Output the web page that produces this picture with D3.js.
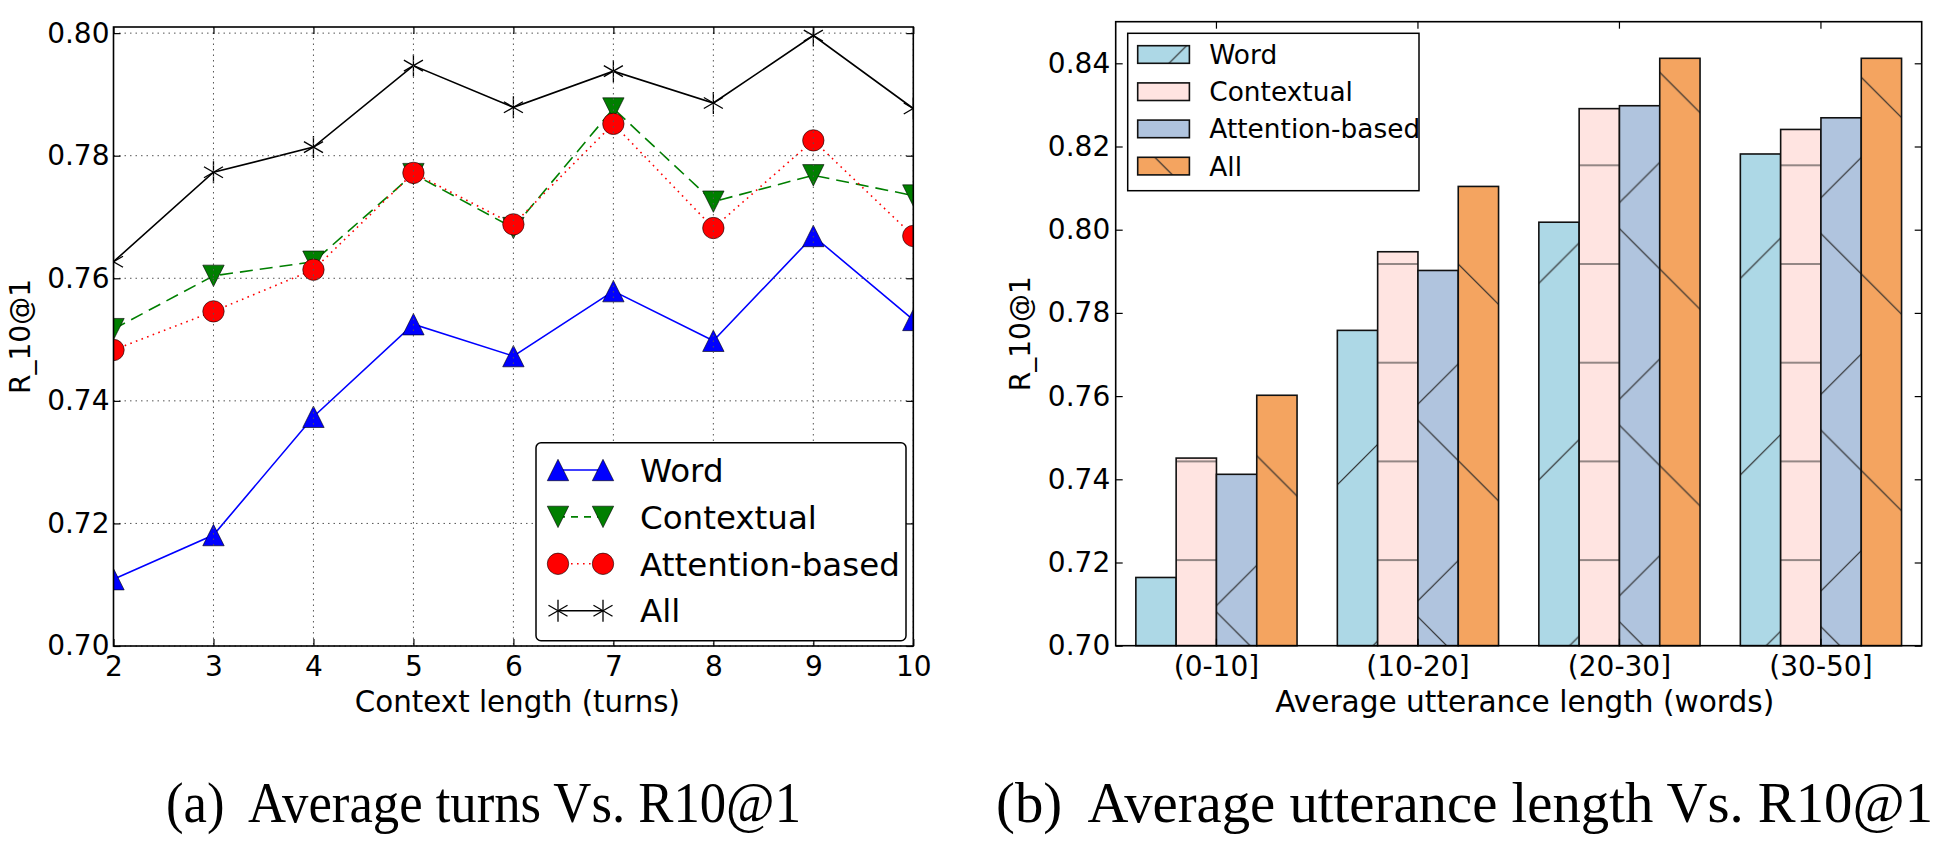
<!DOCTYPE html>
<html><head><meta charset="utf-8">
<script src="https://cdn.jsdelivr.net/npm/d3@7"></script>
<style>
body{margin:0;background:#fff;}
svg{display:block;}
text{font-family:"DejaVu Sans",sans-serif;fill:#000;}
</style>
</head><body>
<svg id="c" width="1953" height="851"></svg>
<script>
// ---------- data ----------
const turns = [2, 3, 4, 5, 6, 7, 8, 9, 10];
const wordTurns       = [0.7109, 0.7181, 0.7374, 0.7525, 0.7473, 0.7579, 0.7498, 0.7669, 0.7532];
const contextualTurns = [0.7517, 0.7604, 0.7627, 0.7770, 0.7682, 0.7877, 0.7725, 0.7768, 0.7735];
const attentionTurns  = [0.7483, 0.7546, 0.7614, 0.7772, 0.7688, 0.7852, 0.7682, 0.7825, 0.7669];
const allTurns        = [0.7627, 0.7773, 0.7814, 0.7947, 0.7879, 0.7938, 0.7886, 0.7996, 0.7877];

const utterCats = ["(0-10]", "(10-20]", "(20-30]", "(30-50]"];
const wordUtter       = [0.7164, 0.7758, 0.8018, 0.8182];
const contextualUtter = [0.7451, 0.7947, 0.8291, 0.8241];
const attentionUtter  = [0.7412, 0.7902, 0.8298, 0.8269];
const allUtter        = [0.7602, 0.8104, 0.8412, 0.8412];

const seriesNames = ["Word", "Contextual", "Attention-based", "All"];
const leftYTicks  = [0.70, 0.72, 0.74, 0.76, 0.78, 0.80];
const rightYTicks = [0.70, 0.72, 0.74, 0.76, 0.78, 0.80, 0.82, 0.84];
const leftXLabel  = "Context length (turns)";
const rightXLabel = "Average utterance length (words)";
const yLabel      = "R_10@1";
const captions    = ["(a)  Average turns Vs. R10@1", "(b)  Average utterance length Vs. R10@1"];

// ---------- setup ----------
const svg = d3.select("#c");
const defs = svg.append("defs");
const fmt2 = d3.format(".2f");

// ================= LEFT CHART =================
const L = {x0: 113.5, x1: 913.3, y0: 27, y1: 646};
const xL = d3.scaleLinear().domain([2, 10]).range([L.x0, L.x1]);
const yL = d3.scaleLinear().domain([0.70, 0.801]).range([L.y1, L.y0]);

defs.append("clipPath").attr("id", "clipL").append("rect")
  .attr("x", L.x0).attr("y", L.y0).attr("width", L.x1 - L.x0).attr("height", L.y1 - L.y0);

const gL = svg.append("g");
const dataL = gL.append("g").attr("clip-path", "url(#clipL)");

const lineSeries = [
  {name: "Word", vals: wordTurns, color: "#0000ff", dash: null, legDash: null, marker: "triUp"},
  {name: "Contextual", vals: contextualTurns, color: "#007f00", dash: "13,7", legDash: "7,6", marker: "triDown"},
  {name: "Attention-based", vals: attentionTurns, color: "#ff0000", dash: "1.6,4.4", legDash: "1.6,4.4", marker: "circle"},
  {name: "All", vals: allTurns, color: "#000000", dash: null, legDash: null, marker: "star"}
];

function drawMarker(g, type, x, y, color) {
  const s = 10.7;
  if (type === "triUp") {
    g.append("path").attr("d", `M${x},${y - s}L${x + s},${y + s}L${x - s},${y + s}Z`)
      .attr("fill", color).attr("stroke", "#000").attr("stroke-width", 0.6);
  } else if (type === "triDown") {
    g.append("path").attr("d", `M${x},${y + s}L${x + s},${y - s}L${x - s},${y - s}Z`)
      .attr("fill", color).attr("stroke", "#000").attr("stroke-width", 0.6);
  } else if (type === "circle") {
    g.append("circle").attr("cx", x).attr("cy", y).attr("r", s)
      .attr("fill", color).attr("stroke", "#000").attr("stroke-width", 0.6);
  } else {
    const r = 11;
    [90, 30, -30].forEach(a => {
      const dx = r * Math.cos(a * Math.PI / 180), dy = r * Math.sin(a * Math.PI / 180);
      g.append("line").attr("x1", x - dx).attr("y1", y - dy).attr("x2", x + dx).attr("y2", y + dy)
        .attr("stroke", color).attr("stroke-width", 1.3);
    });
  }
}

const lineGen = d3.line().x((d, i) => xL(turns[i])).y(d => yL(d));
lineSeries.forEach(s => {
  const p = dataL.append("path").datum(s.vals).attr("d", lineGen)
    .attr("fill", "none").attr("stroke", s.color).attr("stroke-width", 1.6);
  if (s.dash) p.attr("stroke-dasharray", s.dash);
});
lineSeries.forEach(s => {
  s.vals.forEach((v, i) => drawMarker(dataL, s.marker, xL(turns[i]), yL(v), s.color));
});

// grid (drawn above data as in the original)
const gridL = gL.append("g").attr("stroke", "#555").attr("stroke-width", 1).attr("stroke-dasharray", "1.5,4");
turns.forEach(t => gridL.append("line").attr("x1", xL(t)).attr("x2", xL(t)).attr("y1", L.y0).attr("y2", L.y1));
leftYTicks.forEach(t => gridL.append("line").attr("x1", L.x0).attr("x2", L.x1).attr("y1", yL(t)).attr("y2", yL(t)));

// axes
function styleAxis(g, size) {
  g.select(".domain").remove();
  g.selectAll(".tick line").attr("stroke", "#000").attr("stroke-width", 1.2);
  g.selectAll(".tick text").style("font-size", size + "px").attr("fill", "#000");
  g.attr("font-family", null).attr("font-size", null);
}
const axBL = gL.append("g").attr("transform", `translate(0,${L.y1})`)
  .call(d3.axisBottom(xL).tickValues(turns).tickFormat(d3.format("d")).tickSizeInner(-7).tickSizeOuter(0).tickPadding(10));
styleAxis(axBL, 28);
const axLL = gL.append("g").attr("transform", `translate(${L.x0},0)`)
  .call(d3.axisLeft(yL).tickValues(leftYTicks).tickFormat(fmt2).tickSizeInner(-7).tickSizeOuter(0).tickPadding(4));
styleAxis(axLL, 28);
const axTL = gL.append("g").attr("transform", `translate(0,${L.y0})`)
  .call(d3.axisTop(xL).tickValues(turns).tickFormat("").tickSizeInner(-7).tickSizeOuter(0));
styleAxis(axTL, 28);
const axRL = gL.append("g").attr("transform", `translate(${L.x1},0)`)
  .call(d3.axisRight(yL).tickValues(leftYTicks).tickFormat("").tickSizeInner(-7).tickSizeOuter(0));
styleAxis(axRL, 28);

gL.append("rect").attr("x", L.x0).attr("y", L.y0).attr("width", L.x1 - L.x0).attr("height", L.y1 - L.y0)
  .attr("fill", "none").attr("stroke", "#000").attr("stroke-width", 1.6);

gL.append("text").attr("x", (L.x0 + L.x1) / 2 + 4).attr("y", 712).attr("text-anchor", "middle")
  .style("font-size", "29.3px").text(leftXLabel);
gL.append("text").attr("transform", `translate(29.5,${(L.y0 + L.y1) / 2}) rotate(-90)`)
  .attr("text-anchor", "middle").style("font-size", "28px").text(yLabel);

// legend (left)
const legL = gL.append("g");
legL.append("rect").attr("x", 536).attr("y", 442.7).attr("width", 370).attr("height", 198)
  .attr("rx", 5).attr("fill", "#fff").attr("stroke", "#000").attr("stroke-width", 1.5);
lineSeries.forEach((s, i) => {
  const cy = 470 + i * 46.9;
  const ln = legL.append("line").attr("x1", 558).attr("x2", 603).attr("y1", cy).attr("y2", cy)
    .attr("stroke", s.color).attr("stroke-width", 1.6);
  if (s.legDash) ln.attr("stroke-dasharray", s.legDash).attr("stroke-dashoffset", -13);
  drawMarker(legL, s.marker, 558, cy, s.color);
  drawMarker(legL, s.marker, 603, cy, s.color);
  legL.append("text").attr("x", 640).attr("y", cy).attr("dy", "0.36em")
    .style("font-size", "32.5px").text(s.name);
});

// ================= RIGHT CHART =================
const R = {x0: 1115.7, x1: 1921.7, y0: 21.7, y1: 645.7};
const xR = d3.scaleBand().domain(utterCats).range([R.x0, R.x1]).paddingInner(0.2).paddingOuter(0.1);
const xSub = d3.scaleBand().domain(seriesNames).range([0, xR.bandwidth()]);
const yR = d3.scaleLinear().domain([0.70, 0.85]).range([R.y1, R.y0]);

// hatch patterns (anchored to the page, like matplotlib hatches)
const HP = 196.6, HH = 98.7;
function addPattern(id, type) {
  let w = HP, h = HP, ox = 0, oy = 0;
  if (type === "h") { w = HH; h = HH; oy = 66.6; }
  if (type === "f") { ox = 52.7; }
  if (type === "b") { oy = 182; }
  const p = defs.append("pattern").attr("id", id).attr("patternUnits", "userSpaceOnUse")
    .attr("x", ox).attr("y", oy).attr("width", w).attr("height", h);
  const g = p.append("g").attr("stroke", "#2a2a2a").attr("stroke-width", 1.2);
  if (type === "h") {
    [0, HH].forEach(y => g.append("line").attr("x1", -1).attr("x2", w + 1).attr("y1", y).attr("y2", y));
  } else if (type === "f") {
    [0, HP, 2 * HP].forEach(c => g.append("line").attr("x1", c - 2 * HP).attr("y1", 2 * HP).attr("x2", c + HP).attr("y2", -HP));
  } else if (type === "b") {
    [-HP, 0, HP].forEach(c => g.append("line").attr("x1", -HP).attr("y1", c - HP).attr("x2", 2 * HP).attr("y2", c + 2 * HP));
  }
}
addPattern("hatchF", "f");
addPattern("hatchB", "b");
addPattern("hatchH", "h");

const barSeries = [
  {name: "Word", vals: wordUtter, color: "#add8e6", hatch: ["hatchF"]},
  {name: "Contextual", vals: contextualUtter, color: "#ffe4e1", hatch: ["hatchH"]},
  {name: "Attention-based", vals: attentionUtter, color: "#b0c4de", hatch: ["hatchF", "hatchB"]},
  {name: "All", vals: allUtter, color: "#f4a460", hatch: ["hatchB"]}
];

const gR = svg.append("g");
function drawHatchedRect(g, x, y, w, h, s) {
  g.append("rect").attr("x", x).attr("y", y).attr("width", w).attr("height", h).attr("fill", s.color);
  s.hatch.forEach(hid => g.append("rect").attr("x", x).attr("y", y).attr("width", w).attr("height", h)
    .attr("fill", `url(#${hid})`));
  g.append("rect").attr("x", x).attr("y", y).attr("width", w).attr("height", h)
    .attr("fill", "none").attr("stroke", "#111").attr("stroke-width", 1.6);
}
barSeries.forEach(s => {
  s.vals.forEach((v, i) => {
    const c = utterCats[i];
    const x = xR(c) + xSub(s.name);
    drawHatchedRect(gR, x, yR(v), xSub.bandwidth(), R.y1 - yR(v), s);
  });
});

const axBR = gR.append("g").attr("transform", `translate(0,${R.y1})`)
  .call(d3.axisBottom(xR).tickSizeInner(-7).tickSizeOuter(0).tickPadding(10.5));
styleAxis(axBR, 28);
const axLR = gR.append("g").attr("transform", `translate(${R.x0},0)`)
  .call(d3.axisLeft(yR).tickValues(rightYTicks).tickFormat(fmt2).tickSizeInner(-7).tickSizeOuter(0).tickPadding(5.5));
styleAxis(axLR, 28);
const axTR = gR.append("g").attr("transform", `translate(0,${R.y0})`)
  .call(d3.axisTop(xR).tickFormat("").tickSizeInner(-7).tickSizeOuter(0));
styleAxis(axTR, 28);
const axRR = gR.append("g").attr("transform", `translate(${R.x1},0)`)
  .call(d3.axisRight(yR).tickValues(rightYTicks).tickFormat("").tickSizeInner(-7).tickSizeOuter(0));
styleAxis(axRR, 28);

gR.append("rect").attr("x", R.x0).attr("y", R.y0).attr("width", R.x1 - R.x0).attr("height", R.y1 - R.y0)
  .attr("fill", "none").attr("stroke", "#000").attr("stroke-width", 1.6);

gR.append("text").attr("x", (R.x0 + R.x1) / 2 + 6).attr("y", 712).attr("text-anchor", "middle")
  .style("font-size", "29.6px").text(rightXLabel);
gR.append("text").attr("transform", `translate(1030,${(R.y0 + R.y1) / 2}) rotate(-90)`)
  .attr("text-anchor", "middle").style("font-size", "28px").text(yLabel);

// legend (right)
const legR = gR.append("g");
legR.append("rect").attr("x", 1127.7).attr("y", 33.3).attr("width", 291.3).attr("height", 157.4)
  .attr("fill", "#fff").attr("stroke", "#000").attr("stroke-width", 1.5);
barSeries.forEach((s, i) => {
  const cy = 54.5 + i * 37.2;
  drawHatchedRect(legR, 1137.7, cy - 8.8, 51.7, 17.6, s);
  legR.append("text").attr("x", 1209.3).attr("y", cy).attr("dy", "0.36em")
    .style("font-size", "26.4px").text(s.name);
});

// ================= CAPTIONS =================
svg.append("text").attr("x", 166).attr("y", 822).style("white-space", "pre")
  .attr("textLength", 635).attr("lengthAdjust", "spacingAndGlyphs")
  .style("font-family", "'Liberation Serif', serif").style("font-size", "57px").text(captions[0]);
svg.append("text").attr("x", 996).attr("y", 822).style("white-space", "pre")
  .attr("textLength", 937).attr("lengthAdjust", "spacingAndGlyphs")
  .style("font-family", "'Liberation Serif', serif").style("font-size", "57px").text(captions[1]);
</script>
</body></html>
